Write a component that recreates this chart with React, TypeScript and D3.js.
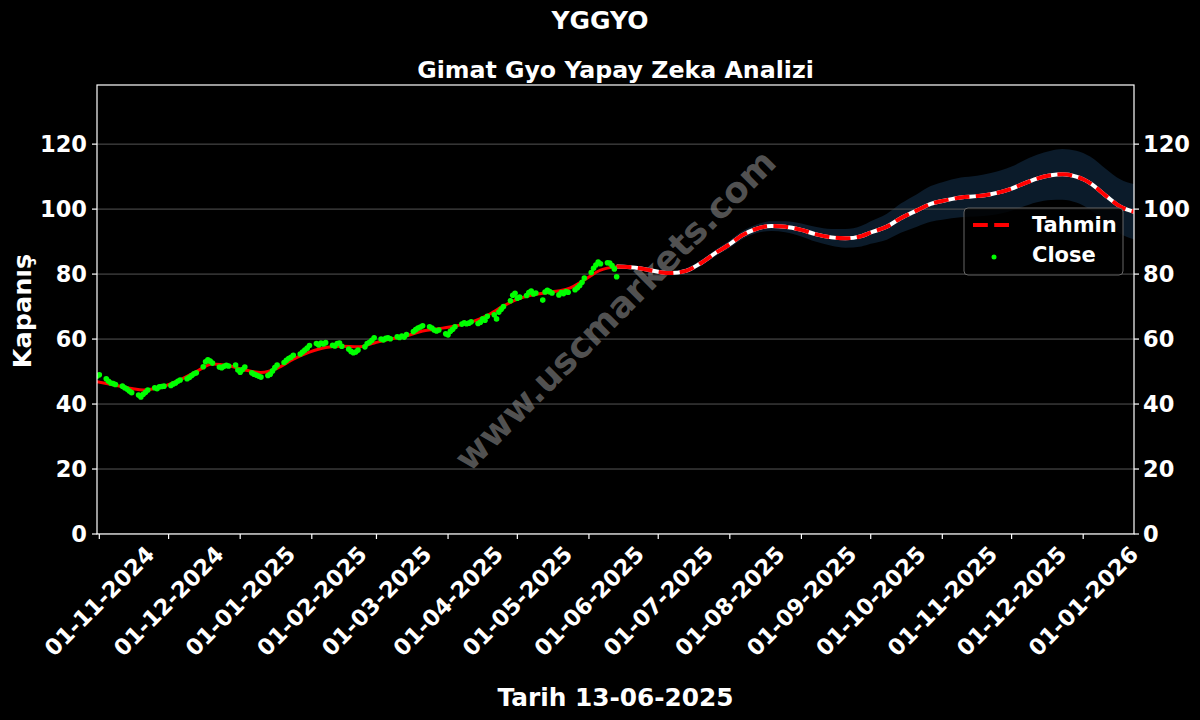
import React from 'react';
import * as d3 from 'd3';

// ---------- data ----------
const xStart = '2024-10-31';
const xEnd = '2026-01-23';
const yMax = 138.2;
const yTicks = [0, 20, 40, 60, 80, 100, 120];
const xTickDates = [
  '2024-11-01', '2024-12-01', '2025-01-01', '2025-02-01', '2025-03-01', '2025-04-01', '2025-05-01',
  '2025-06-01', '2025-07-01', '2025-08-01', '2025-09-01', '2025-10-01', '2025-11-01', '2025-12-01', '2026-01-01',
];

// daily closes (weekdays) from closeStart to closeEnd
const closeStart = '2024-10-31';
const closeEnd = '2025-06-13';
const closeValues = [
  48.6, 49.0,
  47.8, 47.0, 46.5, 46.3, 46.0,
  45.5, 45.0, 44.6, 44.0, 43.5,
  42.8, 42.2, 43.0, 43.6, 44.3,
  45.0, 44.7, 45.3, 45.4, 45.5,
  45.7, 46.2, 46.5, 47.0, 47.4,
  47.8, 48.2, 48.8, 49.3, 49.6,
  51.5, 53.0, 53.6, 53.2, 52.6,
  51.4, 51.2, 51.6, 51.9, 51.7,
  52.0, 50.5, 49.8, 50.6, 51.4,
  49.6, 49.2, 48.9, 48.6, 48.3,
  48.8, 49.2, 50.2, 51.2, 52.0,
  52.8, 53.5, 54.0, 54.4, 55.0,
  55.4, 56.0, 56.6, 57.2, 58.0,
  58.6, 58.2, 58.8, 58.5, 58.9,
  58.1, 57.9, 58.6, 58.8, 57.8,
  56.9, 56.2, 55.8, 56.0, 56.6,
  57.6, 58.6, 59.0, 59.6, 60.4,
  60.0, 59.7, 60.2, 60.4, 60.1,
  60.7, 60.5, 60.9, 60.6, 61.4,
  62.3, 62.9, 63.4, 63.7, 64.1,
  63.8, 63.4, 62.8, 62.5, 62.8,
  61.6, 61.3, 62.4, 63.0, 63.8,
  64.6, 65.0, 64.7, 64.9, 65.3,
  64.8, 65.2, 66.2, 65.8, 67.0,
  67.5, 66.2, 68.3, 69.2, 70.0,
  71.8, 73.5, 74.1, 72.6, 72.9,
  73.4, 74.3, 74.8, 73.9, 74.2,
  72.0, 74.5, 75.0, 74.6, 74.2,
  73.6, 74.3, 74.0, 74.6, 74.4,
  75.2, 75.8, 76.5, 77.5, 78.8,
  80.5, 81.8, 82.8, 83.7, 83.2,
  83.5, 83.4, 82.6, 81.6, 79.2,
];

// fitted model on history
const fitDates = [
  '2024-10-31', '2024-11-08', '2024-11-15', '2024-11-20', '2024-11-29', '2024-12-06', '2024-12-13',
  '2024-12-20', '2024-12-27', '2025-01-03', '2025-01-10', '2025-01-17', '2025-01-24', '2025-01-31',
  '2025-02-07', '2025-02-14', '2025-02-21', '2025-02-28', '2025-03-07', '2025-03-14', '2025-03-21',
  '2025-03-28', '2025-04-04', '2025-04-11', '2025-04-18', '2025-04-25', '2025-05-02', '2025-05-09',
  '2025-05-16', '2025-05-23', '2025-05-30', '2025-06-06', '2025-06-13',
];
const fitValues = [
  46.9, 45.8, 44.8, 44.3, 45.5, 47.5, 50.0,
  52.3, 51.8, 50.5, 49.7, 51.0, 53.8, 56.0,
  57.4, 57.8, 57.6, 58.8, 60.0, 61.0, 62.5,
  63.2, 64.0, 65.2, 67.3, 70.2, 72.5, 73.8,
  74.5, 75.5, 78.2, 81.2, 82.3,
];

// forecast ("Tahmin") with uncertainty half-width
const fcDates = [
  '2025-06-13', '2025-06-23', '2025-07-01', '2025-07-06', '2025-07-13', '2025-07-19', '2025-07-26',
  '2025-08-01', '2025-08-06', '2025-08-12', '2025-08-19', '2025-08-25', '2025-09-01', '2025-09-07',
  '2025-09-14', '2025-09-20', '2025-09-27', '2025-10-01', '2025-10-08', '2025-10-14', '2025-10-21',
  '2025-10-27', '2025-11-01', '2025-11-09', '2025-11-16', '2025-11-22', '2025-12-01', '2025-12-05',
  '2025-12-12', '2025-12-18', '2025-12-23', '2025-12-29', '2026-01-01', '2026-01-04', '2026-01-11',
  '2026-01-17', '2026-01-23',
];
const fcValues = [
  82.3, 81.8, 80.7, 80.3, 81.0, 83.2, 86.6,
  89.2, 91.8, 93.8, 94.8, 94.6, 93.6, 92.3,
  91.3, 91.0, 91.7, 92.8, 94.6, 97.2, 99.6,
  101.6, 102.5, 103.6, 104.0, 104.6, 106.3, 107.5,
  109.4, 110.4, 110.7, 110.0, 109.2, 108.0, 104.0,
  100.8, 99.2,
];
const fcBand = [
  0.3, 0.5, 0.6, 0.7, 0.8, 0.9, 1.0,
  1.1, 1.2, 1.3, 1.5, 1.7, 2.0, 2.3,
  2.6, 2.9, 3.2, 3.5, 4.0, 4.5, 5.0,
  5.5, 5.8, 6.1, 6.3, 6.5, 6.8, 7.0,
  7.3, 7.6, 7.8, 8.0, 8.1, 8.2, 8.3,
  8.4, 8.5,
];

const titleMain = 'YGGYO';
const titleSub = 'Gimat Gyo Yapay Zeka Analizi';
const xLabel = 'Tarih 13-06-2025';
const yLabel = 'Kapanış';
const watermark = 'www.uscmarkets.com';

// ---------- layout ----------
const W = 1200;
const H = 720;
const L = 97, R = 1134, T = 85, B = 534;
const FONT = 'DejaVu Sans, sans-serif';

export default function App() {
  React.useEffect(() => {
    document.body.style.margin = '0';
    document.body.style.background = '#000';
  }, []);

  const parse = d3.timeParse('%Y-%m-%d');
  const p = (s: string) => parse(s) as Date;
  const x = d3.scaleTime().domain([p(xStart), p(xEnd)]).range([L, R]);
  const y = d3.scaleLinear().domain([0, yMax]).range([B, T]);

  const closeDates = d3.timeDay
    .range(p(closeStart), d3.timeDay.offset(p(closeEnd), 1))
    .filter((d) => d.getDay() !== 0 && d.getDay() !== 6);
  const closePts = closeValues.map((v, i) => ({ d: closeDates[i], v })).filter((o) => o.d);

  const fitPts = fitDates.map((s, i) => ({ d: p(s), v: fitValues[i] }));
  const fcPts = fcDates.map((s, i) => ({ d: p(s), v: fcValues[i], b: fcBand[i] }));

  const line = d3
    .line<{ d: Date; v: number }>()
    .x((o) => x(o.d))
    .y((o) => y(o.v))
    .curve(d3.curveMonotoneX);
  const area = d3
    .area<{ d: Date; v: number; b: number }>()
    .x((o) => x(o.d))
    .y0((o) => y(o.v - o.b))
    .y1((o) => y(o.v + o.b))
    .curve(d3.curveMonotoneX);

  const tickFont = 22.5;
  const wmX = 615, wmY = 310;

  return (
    <svg width={W} height={H} style={{ display: 'block', background: '#000' }} fontFamily={FONT}>
      <rect x={0} y={0} width={W} height={H} fill="#000" />
      <defs>
        <clipPath id="plotClip">
          <rect x={L} y={T} width={R - L} height={B - T} />
        </clipPath>
      </defs>

      {/* titles */}
      <text x={600} y={29} textAnchor="middle" fill="#fff" fontWeight="bold" fontSize={25}>{titleMain}</text>
      <text x={(L + R) / 2} y={77.5} textAnchor="middle" fill="#fff" fontWeight="bold" fontSize={23.7}>{titleSub}</text>

      <g clipPath="url(#plotClip)">
        <path d={area(fcPts) || ''} fill="#0b1b2a" />
        {yTicks.map((t) => (
          <line key={t} x1={L} x2={R} y1={y(t)} y2={y(t)} stroke="#555" strokeWidth={1} />
        ))}
        <text
          x={wmX}
          y={wmY}
          transform={`rotate(-45 ${wmX} ${wmY})`}
          textAnchor="middle"
          dominantBaseline="central"
          fill="#8a8a8a"
          fillOpacity={0.6}
          fontWeight="bold"
          fontSize={35.5}
        >
          {watermark}
        </text>
        <path d={line(fitPts) || ''} fill="none" stroke="#ff0000" strokeWidth={3} />
        <path d={line(fcPts) || ''} fill="none" stroke="#ffffff" strokeWidth={4} />
        <path d={line(fcPts) || ''} fill="none" stroke="#ff0000" strokeWidth={4} strokeDasharray="14.8 6.4" />
        {closePts.map((o, i) => (
          <circle key={i} cx={x(o.d)} cy={y(o.v)} r={2.8} fill="#00ff00" />
        ))}
      </g>

      {/* spines */}
      <rect x={L} y={T} width={R - L} height={B - T} fill="none" stroke="#fff" strokeWidth={1.2} />

      {/* y ticks both sides */}
      {yTicks.map((t) => (
        <g key={t}>
          <line x1={L - 5} x2={L} y1={y(t)} y2={y(t)} stroke="#fff" strokeWidth={1.2} />
          <line x1={R} x2={R + 5} y1={y(t)} y2={y(t)} stroke="#fff" strokeWidth={1.2} />
          <text x={L - 10} y={y(t)} textAnchor="end" dominantBaseline="central" fill="#fff" fontWeight="bold" fontSize={tickFont}>{t}</text>
          <text x={R + 9} y={y(t)} textAnchor="start" dominantBaseline="central" fill="#fff" fontWeight="bold" fontSize={tickFont}>{t}</text>
        </g>
      ))}

      {/* x ticks */}
      {xTickDates.map((s) => {
        const d = p(s);
        const xx = x(d);
        const label = d3.timeFormat('%d-%m-%Y')(d);
        const cy = 601;
        return (
          <g key={s}>
            <line x1={xx} x2={xx} y1={B} y2={B + 5} stroke="#fff" strokeWidth={1.2} />
            <text
              x={xx}
              y={cy}
              transform={`rotate(-45 ${xx} ${cy})`}
              textAnchor="middle"
              dominantBaseline="central"
              fill="#fff"
              fontWeight="bold"
              fontSize={tickFont}
            >
              {label}
            </text>
          </g>
        );
      })}

      {/* axis labels */}
      <text x={(L + R) / 2} y={706} textAnchor="middle" fill="#fff" fontWeight="bold" fontSize={24.8}>{xLabel}</text>
      <text
        x={22}
        y={311}
        transform={`rotate(-90 22 311)`}
        textAnchor="middle"
        dominantBaseline="central"
        fill="#fff"
        fontWeight="bold"
        fontSize={25.5}
      >
        {yLabel}
      </text>

      {/* legend */}
      <g>
        <rect x={964} y={208} width={159} height={67} rx={4} fill="#000" fillOpacity={0.8} stroke="#666" strokeWidth={1} />
        <line x1={973} x2={1013} y1={225} y2={225} stroke="#ff0000" strokeWidth={4} strokeDasharray="14.8 6.4" />
        <text x={1032} y={225} dominantBaseline="central" fill="#fff" fontWeight="bold" fontSize={21}>Tahmin</text>
        <circle cx={994} cy={257} r={2.5} fill="#00ff00" />
        <text x={1032} y={255} dominantBaseline="central" fill="#fff" fontWeight="bold" fontSize={21}>Close</text>
      </g>
    </svg>
  );
}
